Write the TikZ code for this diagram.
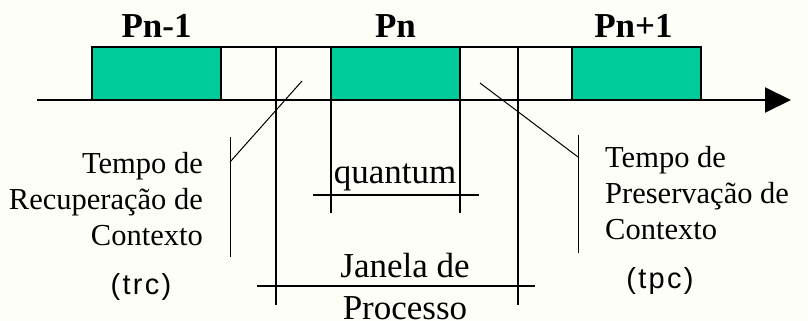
\documentclass[tikz,border=0pt]{standalone}
\usepackage{fontspec}
\setmainfont{Liberation Serif}
\newfontfamily\tagfont[LetterSpace=8]{Liberation Sans}
\usetikzlibrary{arrows.meta,positioning}
\definecolor{procgreen}{RGB}{0,204,153}
\definecolor{paper}{RGB}{254,254,248}

\begin{document}
\begin{tikzpicture}[x=1pt, y=-1pt,
  slot/.style={rectangle, draw, line width=1.5pt, outer sep=0pt, inner sep=0pt,
               minimum height=53pt, anchor=south west},
  proc/.style={slot, fill=procgreen, minimum width=129pt},
  gap/.style={slot, fill=paper},
  title/.style={font=\fontsize{35}{40}\selectfont\bfseries, inner sep=0pt},
  note/.style={font=\fontsize{30.5}{36}\selectfont, inner sep=0pt},
  big/.style={font=\fontsize{35}{42}\selectfont, inner sep=0pt, align=center},
  tag/.style={font=\tagfont\fontsize{29}{32}\selectfont, inner sep=0pt},
  dim/.style={line width=1.5pt},
  lead/.style={line width=1pt}]
\fill[paper] (0,0) rectangle (808,321);
\useasboundingbox (0,0) rectangle (808,321);
% time axis
\coordinate (t0) at (37,100);
\coordinate (tend) at (791,100);
\draw[line width=2pt, -{Triangle[length=26pt, width=25pt]}] (t0) -- (tend);
% processes and switch slots
\node[proc] (pa) at (92,100) {};
\node[gap, minimum width=55pt, right=0pt of pa] (g1a) {};
\node[gap, minimum width=55pt, right=0pt of g1a] (g1b) {};
\node[proc, right=0pt of g1b] (pb) {};
\node[gap, minimum width=58pt, right=0pt of pb] (g2a) {};
\node[gap, minimum width=54pt, right=0pt of g2a] (g2b) {};
\node[proc, right=0pt of g2b] (pc) {};
\node[title, above=9pt of pa] (pat) {Pn-1};
\node[title, above=9pt of pb] (pbt) {Pn};
\node[title, above=9pt of pc, xshift=-3pt] (pct) {Pn+1};
% quantum
\draw[dim] (pb.south west) -- ++(0,113);
\draw[dim] (pb.south east) -- ++(0,113);
\draw[dim] (313,195) -- (479,195);
\node[big, anchor=base] (quant) at (395,183) {quantum};
% janela de processo
\draw[dim] (g1a.north east) -- ++(0,258);
\draw[dim] (g2a.north east) -- ++(0,258);
\draw[dim] (257,286) -- (535,286);
\node[big, anchor=north] (janela) at (405,253) {Janela de\\Processo};
% recuperacao
\draw[lead] (230,137) -- (230,257);
\draw[lead] (230,162) -- (302,81);
\node[note, align=right, anchor=north east] (trcnote) at (203,152)
  {Tempo de\\Recuperação de\\Contexto};
\node[tag] (trc) at (141,287) {(trc)};
% preservacao
\draw[lead] (578,135) -- (578,253);
\draw[lead] (480,83) -- (578,157);
\node[note, align=left, anchor=north west] (tpcnote) at (605,146)
  {Tempo de\\Preservação de\\Contexto};
\node[tag] (tpc) at (660,281) {(tpc)};
\end{tikzpicture}
\end{document}
